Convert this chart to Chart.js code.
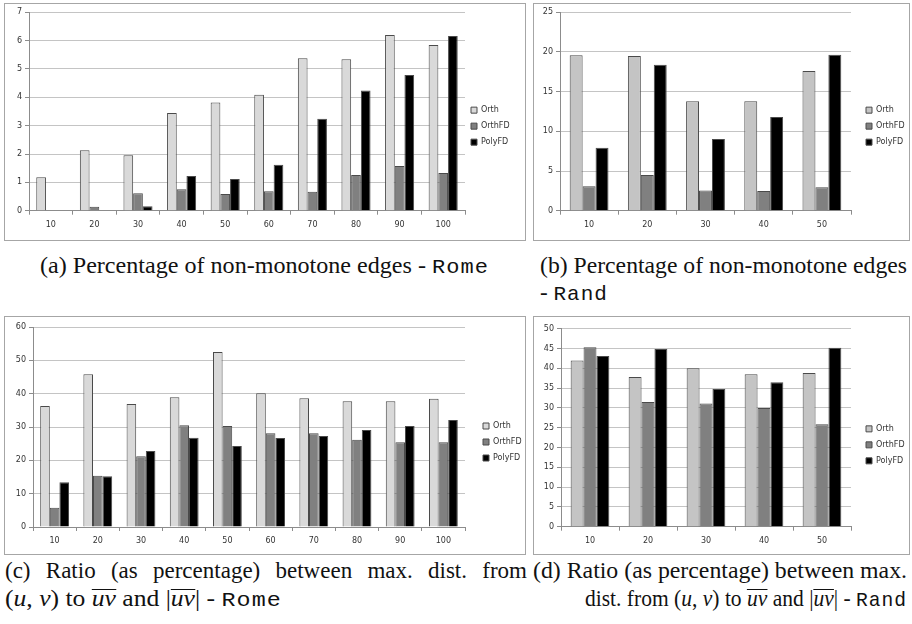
<!DOCTYPE html>
<html>
<head>
<meta charset="utf-8">
<script src="https://cdn.jsdelivr.net/npm/chart.js@4"></script>
<style>
  body { margin: 0; background: #fff; width: 912px; height: 624px; position: relative; overflow: hidden; }
  .panel { position: absolute; border: 1px solid #a6a6a6; box-sizing: border-box; background: #fff; }
  .panel canvas { position: absolute; left: 0; top: 0; }
  .cap { position: absolute; font-family: 'Liberation Serif', 'Times New Roman', serif; font-size: 23px; line-height: 28px;
         white-space: nowrap; color: #111; transform-origin: 0 50%; }
  .tt { font-family: 'Liberation Mono', monospace; font-size: 21px; letter-spacing: 1px; }
  .ov { display: inline-block; border-top: 1px solid #111; line-height: 17px; }
  .just { text-align: justify; text-align-last: justify; white-space: normal; }
</style>
</head>
<body>

<div class="panel" style="left:4px;top:3px;width:522px;height:238px"><canvas id="chartA" width="520" height="236"></canvas></div>
<div class="panel" style="left:533px;top:3px;width:377px;height:238px"><canvas id="chartB" width="375" height="236"></canvas></div>
<div class="panel" style="left:4px;top:316px;width:522px;height:239px"><canvas id="chartC" width="520" height="237"></canvas></div>
<div class="panel" style="left:533px;top:316px;width:377px;height:239px"><canvas id="chartD" width="375" height="237"></canvas></div>

<div class="cap" style="left:40px;top:252px" data-w="449">(a) Percentage of non-monotone edges - <span class="tt">Rome</span></div>
<div class="cap" style="left:540px;top:252px" data-w="367">(b) Percentage of non-monotone edges</div>
<div class="cap" style="left:540px;top:279px">- <span class="tt">Rand</span></div>
<div class="cap just" style="left:5px;top:557px;width:522px">(c) Ratio (as percentage) between max. dist. from</div>
<div class="cap" style="left:5px;top:585px" data-w="277">(<i>u</i>, <i>v</i>) to <span class="ov"><i>uv</i></span> and |<span class="ov"><i>uv</i></span>| - <span class="tt">Rome</span></div>
<div class="cap" style="left:533px;top:557px" data-w="374">(d) Ratio (as percentage) between max.</div>
<div class="cap" style="left:585px;top:585px" data-w="322">dist. from (<i>u</i>, <i>v</i>) to <span class="ov"><i>uv</i></span> and |<span class="ov"><i>uv</i></span>| - <span class="tt">Rand</span></div>

<script>
// ── Data ───────────────────────────────────────────
const romeSizes   = ['10', '20', '30', '40', '50', '60', '70', '80', '90', '100'];
const randSizes   = ['10', '20', '30', '40', '50'];
const seriesNames = ['Orth', 'OrthFD', 'PolyFD'];

// (a) percentage of non-monotone edges - Rome
const romeNonMonoOrth   = [1.18, 2.13, 1.96, 3.45, 3.82, 4.09, 5.38, 5.34, 6.20, 5.85];
const romeNonMonoOrthFD = [0, 0.14, 0.62, 0.76, 0.59, 0.69, 0.67, 1.26, 1.58, 1.33];
const romeNonMonoPolyFD = [0, 0, 0.16, 1.22, 1.12, 1.62, 3.24, 4.24, 4.79, 6.16];

// (b) percentage of non-monotone edges - Rand
const randNonMonoOrth   = [19.6, 19.5, 13.8, 13.8, 17.6];
const randNonMonoOrthFD = [3.07, 4.5, 2.56, 2.48, 2.94];
const randNonMonoPolyFD = [7.94, 18.4, 9.03, 11.8, 19.66];

// (c) ratio max. dist / |uv| - Rome
const romeRatioOrth   = [36.3, 45.8, 36.9, 38.9, 52.5, 40.1, 38.6, 37.7, 37.7, 38.5];
const romeRatioOrthFD = [5.8, 15.4, 21.2, 30.5, 30.3, 28.1, 28.1, 26.2, 25.4, 25.4];
const romeRatioPolyFD = [13.4, 15.2, 22.8, 26.8, 24.3, 26.7, 27.3, 29.1, 30.3, 32.1];

// (d) ratio max. dist / |uv| - Rand
const randRatioOrth   = [42.0, 37.8, 40.0, 38.5, 38.8];
const randRatioOrthFD = [45.3, 31.5, 31.1, 30.0, 25.9];
const randRatioPolyFD = [43.1, 44.9, 34.8, 36.5, 45.2];

// y axis ranges (max, step)
const yAxisA = [7, 1];
const yAxisB = [25, 5];
const yAxisC = [60, 10];
const yAxisD = [50, 5];

// ── Chart defaults ─────────────────────────────────
Chart.defaults.font.family = "'DejaVu Sans', sans-serif";
Chart.defaults.font.size = 8;
Chart.defaults.color = '#333';

// moves the legend box after layout (no margin option in v4)
const legendNudge = {
  id: 'legendNudge',
  afterLayout(chart, args, opts) {
    const lg = chart.legend;
    if (!lg) return;
    const dx = opts.dx || 0, dy = opts.dy || 0;
    lg.left += dx; lg.right += dx;
    lg.top += dy; lg.bottom += dy;
  }
};

function barChart(id, labels, orth, orthFD, polyFD, yAxis, orthColor, lay) {
  const ds = (i, data, color) => ({
    label: seriesNames[i], data, backgroundColor: color,
    borderColor: '#4a4a4a', borderWidth: 1,
    categoryPercentage: 0.667, barPercentage: 1.0,
  });
  new Chart(document.getElementById(id), {
    type: 'bar',
    data: {
      labels,
      datasets: [ds(0, orth, orthColor), ds(1, orthFD, '#808080'), ds(2, polyFD, '#000000')]
    },
    plugins: [legendNudge],
    options: {
      responsive: false,
      animation: false,
      devicePixelRatio: 1,
      layout: { padding: { top: lay.top, right: lay.right, bottom: 0, left: 0 } },
      plugins: {
        tooltip: { enabled: false },
        legend: {
          position: 'right',
          maxWidth: 50,
          labels: { boxWidth: 6, boxHeight: 6, padding: 8, color: '#333', font: { size: 8 } }
        },
        legendNudge: { dx: lay.dx, dy: lay.dy }
      },
      scales: {
        x: {
          grid: { drawOnChartArea: false, tickLength: 4, color: '#8c8c8c', offset: true },
          border: { color: '#8c8c8c' },
          ticks: { padding: 5, maxRotation: 0 },
          afterFit: s => { s.height = lay.xh; }
        },
        y: {
          min: 0, max: yAxis[0],
          ticks: { stepSize: yAxis[1], padding: 3 },
          grid: { color: '#c4c4c4', tickLength: 4, tickColor: '#8c8c8c' },
          border: { color: '#8c8c8c' },
          afterFit: s => { s.width = lay.yw; }
        }
      }
    }
  });
}

barChart('chartA', romeSizes, romeNonMonoOrth, romeNonMonoOrthFD, romeNonMonoPolyFD, yAxisA, '#d9d9d9',
  { top: 8.3, right: 10, xh: 29.3, yw: 24, dx: -2, dy: 0 });
barChart('chartB', randSizes, randNonMonoOrth, randNonMonoOrthFD, randNonMonoPolyFD, yAxisB, '#c4c4c4',
  { top: 8.3, right: 8, xh: 29.3, yw: 26, dx: 7, dy: 0 });
barChart('chartC', romeSizes, romeRatioOrth, romeRatioOrthFD, romeRatioPolyFD, yAxisC, '#d9d9d9',
  { top: 10, right: 10, xh: 27, yw: 28, dx: 10, dy: 1.5 });
barChart('chartD', randSizes, randRatioOrth, randRatioOrthFD, randRatioPolyFD, yAxisD, '#c4c4c4',
  { top: 11.7, right: 8, xh: 27.3, yw: 27, dx: 7, dy: 3.5 });

// ── Fit caption lines to their measured extents ────
document.querySelectorAll('.cap[data-w]').forEach(el => {
  const w = el.getBoundingClientRect().width;
  el.style.transform = 'scaleX(' + (el.dataset.w / w) + ')';
});
</script>
</body>
</html>
